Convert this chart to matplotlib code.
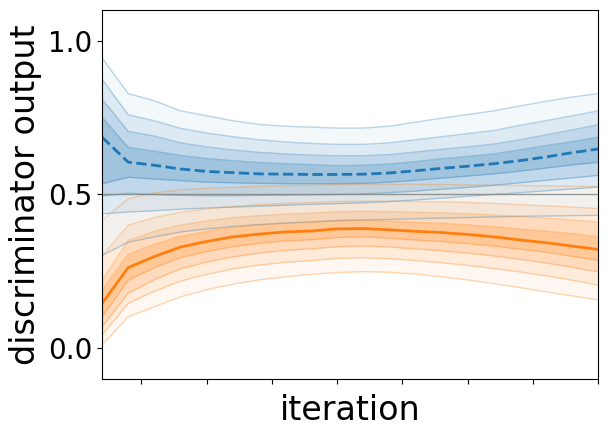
import numpy as np
from matplotlib import pyplot as plt

# iterations
iters = np.arange(100, 2001, 100)
xticks = [250, 500, 750, 1000, 1250, 1500, 1750, 2000]
yticks = [0.0, 0.5, 1.0]

# discriminator output on real data (blue): median and percentile bands, inner -> outer
real_med = [0.686, 0.605, 0.595, 0.583, 0.575, 0.571, 0.567, 0.566, 0.565, 0.565,
            0.566, 0.570, 0.577, 0.585, 0.592, 0.600, 0.610, 0.622, 0.636, 0.648]
real_hi = [
    [0.751, 0.653, 0.641, 0.627, 0.617, 0.610, 0.604, 0.600, 0.597, 0.594,
     0.595, 0.599, 0.607, 0.616, 0.624, 0.632, 0.645, 0.659, 0.672, 0.686],
    [0.810, 0.705, 0.690, 0.668, 0.655, 0.645, 0.637, 0.632, 0.628, 0.626,
     0.626, 0.630, 0.638, 0.647, 0.655, 0.664, 0.678, 0.694, 0.710, 0.727],
    [0.875, 0.759, 0.740, 0.715, 0.700, 0.688, 0.678, 0.671, 0.666, 0.663,
     0.663, 0.668, 0.678, 0.688, 0.698, 0.708, 0.725, 0.740, 0.756, 0.772],
    [0.944, 0.828, 0.805, 0.772, 0.756, 0.740, 0.728, 0.722, 0.719, 0.716,
     0.716, 0.722, 0.735, 0.748, 0.760, 0.772, 0.788, 0.803, 0.817, 0.828],
]
real_lo = [
    [0.535, 0.556, 0.550, 0.545, 0.540, 0.538, 0.536, 0.535, 0.535, 0.535,
     0.536, 0.540, 0.546, 0.553, 0.560, 0.567, 0.576, 0.586, 0.596, 0.605],
    [0.495, 0.504, 0.500, 0.497, 0.496, 0.496, 0.497, 0.498, 0.499, 0.500,
     0.502, 0.506, 0.511, 0.517, 0.523, 0.530, 0.538, 0.546, 0.554, 0.562],
    [0.437, 0.443, 0.447, 0.452, 0.456, 0.459, 0.462, 0.465, 0.468, 0.470,
     0.473, 0.477, 0.482, 0.488, 0.494, 0.500, 0.506, 0.512, 0.518, 0.524],
    [0.302, 0.345, 0.362, 0.378, 0.388, 0.396, 0.402, 0.407, 0.411, 0.415,
     0.417, 0.419, 0.421, 0.423, 0.425, 0.427, 0.429, 0.430, 0.431, 0.432],
]

# discriminator output on generated data (orange)
fake_med = [0.146, 0.262, 0.298, 0.329, 0.347, 0.362, 0.371, 0.378, 0.381, 0.388,
            0.389, 0.385, 0.380, 0.376, 0.370, 0.362, 0.352, 0.343, 0.332, 0.321]
fake_hi = [
    [0.189, 0.305, 0.338, 0.364, 0.380, 0.393, 0.401, 0.406, 0.409, 0.415,
     0.416, 0.413, 0.409, 0.406, 0.401, 0.395, 0.387, 0.380, 0.372, 0.362],
    [0.221, 0.350, 0.380, 0.400, 0.414, 0.424, 0.431, 0.436, 0.439, 0.444,
     0.445, 0.444, 0.442, 0.440, 0.437, 0.433, 0.428, 0.423, 0.417, 0.410],
    [0.300, 0.400, 0.425, 0.442, 0.453, 0.461, 0.467, 0.471, 0.474, 0.477,
     0.478, 0.478, 0.477, 0.476, 0.474, 0.471, 0.467, 0.463, 0.459, 0.454],
    [0.416, 0.486, 0.505, 0.515, 0.520, 0.523, 0.526, 0.528, 0.530, 0.532,
     0.533, 0.533, 0.533, 0.532, 0.531, 0.530, 0.529, 0.528, 0.527, 0.526],
]
fake_lo = [
    [0.102, 0.221, 0.262, 0.295, 0.314, 0.330, 0.341, 0.349, 0.353, 0.360,
     0.362, 0.358, 0.352, 0.347, 0.340, 0.332, 0.322, 0.312, 0.299, 0.286],
    [0.070, 0.179, 0.223, 0.258, 0.280, 0.297, 0.309, 0.318, 0.323, 0.330,
     0.332, 0.329, 0.323, 0.317, 0.309, 0.300, 0.289, 0.277, 0.263, 0.248],
    [0.043, 0.146, 0.185, 0.218, 0.240, 0.258, 0.270, 0.279, 0.285, 0.292,
     0.294, 0.291, 0.285, 0.278, 0.269, 0.259, 0.248, 0.235, 0.221, 0.205],
    [0.011, 0.102, 0.135, 0.167, 0.190, 0.208, 0.222, 0.232, 0.240, 0.246,
     0.249, 0.247, 0.241, 0.232, 0.222, 0.210, 0.197, 0.183, 0.170, 0.157],
]

band_alphas = [0.20, 0.15, 0.10, 0.05]  # inner -> outer

fig, ax = plt.subplots(figsize=(6.08, 4.37), dpi=100)
fig.subplots_adjust(left=0.168, right=0.984, top=0.977, bottom=0.133)

for med, his, los, col, ls in [(real_med, real_hi, real_lo, 'C0', '--'),
                               (fake_med, fake_hi, fake_lo, 'C1', '-')]:
    for hi, lo, a in zip(his, los, band_alphas):
        ax.fill_between(iters, lo, hi, color=col, alpha=a, linewidth=0)
        ax.plot(iters, hi, color=col, alpha=0.3, lw=1)
        ax.plot(iters, lo, color=col, alpha=0.3, lw=1)
    ax.plot(iters, med, color=col, ls=ls, lw=2)

ax.axhline(0.5, color='gray', lw=1, alpha=0.8)

ax.set_xlim(iters[0], iters[-1])
ax.set_ylim(-0.1, 1.1)
ax.set_xticks(xticks)
ax.set_xticklabels([])
ax.set_yticks(yticks)
ax.tick_params(labelsize=20)
ax.set_xlabel('iteration', fontsize=24)
ax.set_ylabel('discriminator output', fontsize=24)

fig.savefig('out.png')
